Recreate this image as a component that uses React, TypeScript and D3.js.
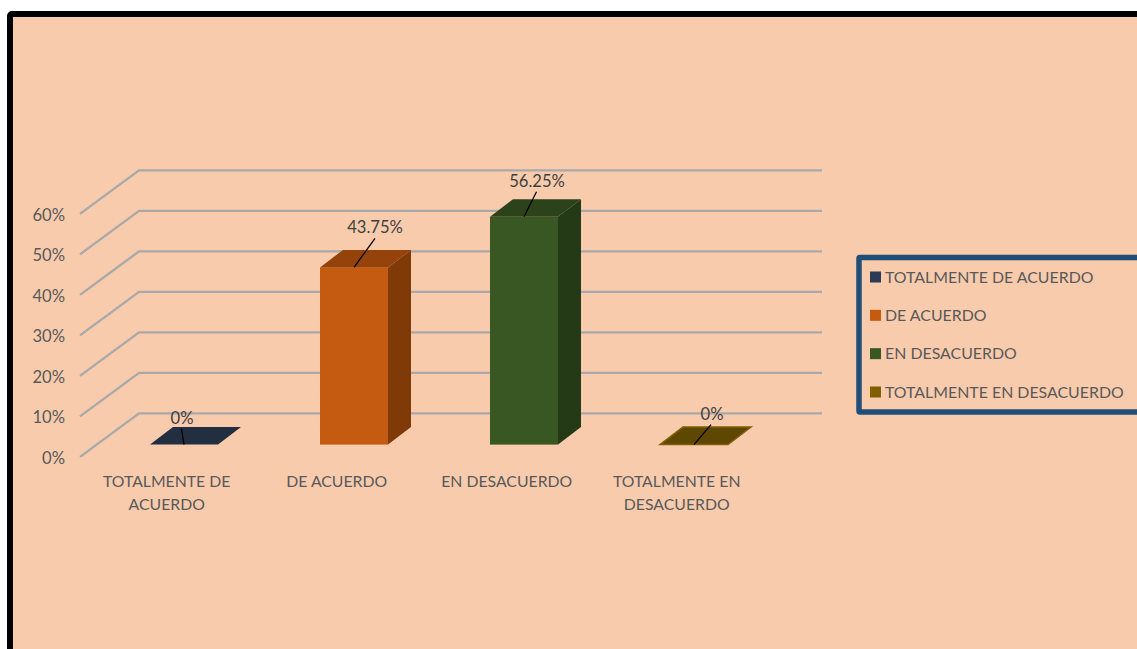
import React from "react";
import * as d3 from "d3";

const categories = ["TOTALMENTE DE ACUERDO", "DE ACUERDO", "EN DESACUERDO", "TOTALMENTE EN DESACUERDO"];
const categoryLines = [["TOTALMENTE DE", "ACUERDO"], ["DE ACUERDO"], ["EN DESACUERDO"], ["TOTALMENTE EN", "DESACUERDO"]];
const values = [0, 0.4375, 0.5625, 0];
const valueLabels = ["0%", "43.75%", "56.25%", "0%"];
const ticks = [0, 0.1, 0.2, 0.3, 0.4, 0.5, 0.6];
const frontColors = ["#2B3A55", "#C55A11", "#385723", "#7F6000"];
const topColors = ["#222F40", "#95430A", "#2B421B", "#5E4700"];
const sideColors = ["#1C2736", "#7F3A08", "#243A16", "#4F3C00"];
const labelOffsets = [[-2, -27], [21, -40], [13, -36], [18, -31]];
const leaderEnds = [[-2.5, -16], [21, -29], [12.5, -25], [17, -20]];

const FONT = "Lato, sans-serif";
const DEPTH_X = 59;
const DEPTH_Y = 43.5;
const BAR_DX = 23;
const BAR_DY = 17.5;
const FLOOR_SHIFT = 12.3;

export default function App() {
  const y = d3.scaleLinear().domain([0, 0.6]).range([456.9, 213.9]);
  const x = d3.scaleBand<string>().domain(categories).range([99, 779]).paddingInner(0.6).paddingOuter(0.3);
  const gridPath = d3.line<[number, number]>();
  const w = x.bandwidth();

  return (
    <svg width={1137} height={649} style={{ position: "fixed", left: 0, top: 0, display: "block" }} fontFamily={FONT}>
      <rect width={1137} height={649} fill="#FFFFFF" />
      <rect x={10} y={14} width={1140} height={650} rx={2} fill="#F8CBAD" stroke="#000000" strokeWidth={6} />

      {ticks.map((t) => (
        <path
          key={t}
          d={gridPath([[80, y(t)], [80 + DEPTH_X, y(t) - DEPTH_Y], [822, y(t) - DEPTH_Y]]) ?? ""}
          fill="none"
          stroke="#A9A9A9"
          strokeWidth={2.4}
        />
      ))}
      {ticks.map((t) => (
        <text key={t} x={65} y={y(t) + 1} dy="0.36em" textAnchor="end" fontSize={16.6} fill="#595959">
          {d3.format(".0%")(t)}
        </text>
      ))}

      {categories.map((c, i) => {
        const x0 = x(c) ?? 0;
        const x1 = x0 + w;
        const yb = y(0) - FLOOR_SHIFT;
        const yt = y(values[i]) - FLOOR_SHIFT;
        const flat = values[i] === 0;
        return (
          <g key={c}>
            {!flat && <rect x={x0} y={yt} width={w} height={yb - yt} fill={frontColors[i]} />}
            {!flat && (
              <polygon
                points={`${x1},${yt} ${x1 + BAR_DX},${yt - BAR_DY} ${x1 + BAR_DX},${yb - BAR_DY} ${x1},${yb}`}
                fill={sideColors[i]}
              />
            )}
            <polygon
              points={`${x0},${yt} ${x0 + BAR_DX},${yt - BAR_DY} ${x1 + BAR_DX},${yt - BAR_DY} ${x1},${yt}`}
              fill={topColors[i]}
              stroke={i === 3 ? frontColors[3] : "none"}
              strokeWidth={i === 3 ? 1.5 : 0}
            />
          </g>
        );
      })}

      {categories.map((c, i) => {
        const cx = (x(c) ?? 0) + w / 2;
        const yt = y(values[i]) - FLOOR_SHIFT;
        return (
          <g key={c}>
            <line x1={cx} y1={yt} x2={cx + leaderEnds[i][0]} y2={yt + leaderEnds[i][1]} stroke="#000000" strokeWidth={1.3} />
            <text x={cx + labelOffsets[i][0]} y={yt + labelOffsets[i][1]} dy="0.36em" textAnchor="middle" fontSize={16.6} fill="#404040">
              {valueLabels[i]}
            </text>
          </g>
        );
      })}

      {categories.map((c, i) => (
        <text key={c} textAnchor="middle" fontSize={15.8} fill="#595959">
          {categoryLines[i].map((line, j) => (
            <tspan key={line} x={(x(c) ?? 0) + w / 2 - 17.3} y={481 + j * 23.5} dy="0.36em">
              {line}
            </tspan>
          ))}
        </text>
      ))}

      <rect x={859} y={257.5} width={290} height={154.5} rx={1} fill="#F8CBAD" stroke="#1F4E79" strokeWidth={5.5} />
      {categories.map((c, i) => {
        const ly = d3.scaleLinear().domain([0, 3]).range([277, 392])(i);
        return (
          <g key={c}>
            <rect x={870} y={ly - 5.5} width={11} height={11} fill={frontColors[i]} />
            <text x={885} y={ly} dy="0.36em" fontSize={15.9} fill="#595959">
              {c}
            </text>
          </g>
        );
      })}
    </svg>
  );
}
